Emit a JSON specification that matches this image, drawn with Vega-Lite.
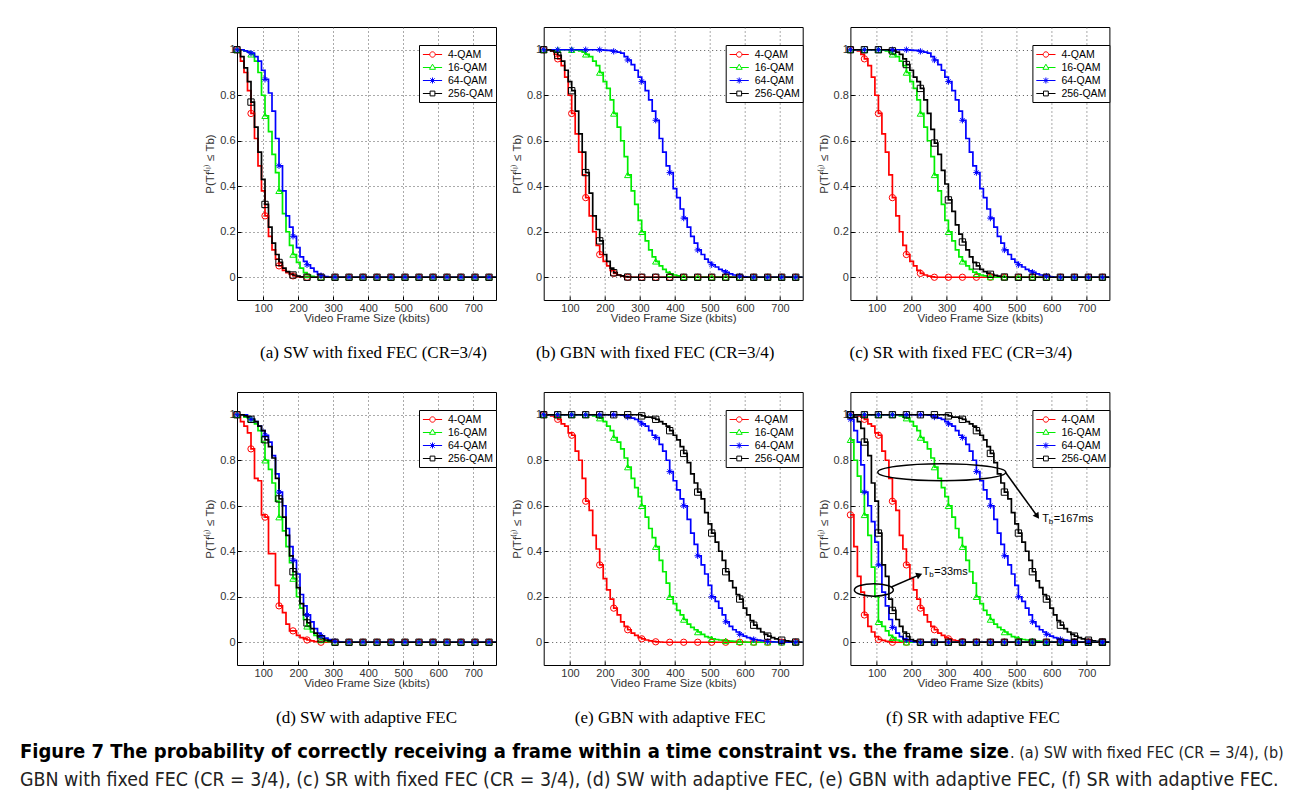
{
"$schema": "https://vega.github.io/schema/vega-lite/v6.json",
"padding": {"left": 20, "top": 26, "right": 0, "bottom": 0},
"background": "white",
"datasets": {"curves": [
{"p":"a","x":25,"4-QAM":1,"16-QAM":1,"64-QAM":1,"256-QAM":1},
{"p":"a","x":35,"4-QAM":0.95,"16-QAM":1,"64-QAM":1,"256-QAM":0.97},
{"p":"a","x":45,"4-QAM":0.9,"16-QAM":0.995,"64-QAM":0.995,"256-QAM":0.92},
{"p":"a","x":55,"4-QAM":0.82,"16-QAM":0.99,"64-QAM":0.99,"256-QAM":0.86},
{"p":"a","x":65,"4-QAM":0.72,"16-QAM":0.98,"64-QAM":0.985,"256-QAM":0.77},
{"p":"a","x":75,"4-QAM":0.61,"16-QAM":0.95,"64-QAM":0.97,"256-QAM":0.66},
{"p":"a","x":85,"4-QAM":0.49,"16-QAM":0.9,"64-QAM":0.95,"256-QAM":0.55},
{"p":"a","x":95,"4-QAM":0.38,"16-QAM":0.8,"64-QAM":0.91,"256-QAM":0.43},
{"p":"a","x":105,"4-QAM":0.27,"16-QAM":0.71,"64-QAM":0.87,"256-QAM":0.32},
{"p":"a","x":115,"4-QAM":0.18,"16-QAM":0.64,"64-QAM":0.81,"256-QAM":0.22},
{"p":"a","x":125,"4-QAM":0.12,"16-QAM":0.54,"64-QAM":0.73,"256-QAM":0.15},
{"p":"a","x":135,"4-QAM":0.08,"16-QAM":0.46,"64-QAM":0.61,"256-QAM":0.1},
{"p":"a","x":145,"4-QAM":0.05,"16-QAM":0.38,"64-QAM":0.49,"256-QAM":0.065},
{"p":"a","x":155,"4-QAM":0.03,"16-QAM":0.28,"64-QAM":0.38,"256-QAM":0.04},
{"p":"a","x":165,"4-QAM":0.02,"16-QAM":0.2,"64-QAM":0.27,"256-QAM":0.025},
{"p":"a","x":175,"4-QAM":0.012,"16-QAM":0.14,"64-QAM":0.22,"256-QAM":0.015},
{"p":"a","x":185,"4-QAM":0.006,"16-QAM":0.1,"64-QAM":0.18,"256-QAM":0.01},
{"p":"a","x":195,"4-QAM":0.003,"16-QAM":0.065,"64-QAM":0.13,"256-QAM":0.005},
{"p":"a","x":205,"4-QAM":0,"16-QAM":0.04,"64-QAM":0.09,"256-QAM":0.002},
{"p":"a","x":215,"4-QAM":0,"16-QAM":0.02,"64-QAM":0.07,"256-QAM":0},
{"p":"a","x":225,"4-QAM":0,"16-QAM":0.01,"64-QAM":0.055,"256-QAM":0},
{"p":"a","x":235,"4-QAM":0,"16-QAM":0.004,"64-QAM":0.04,"256-QAM":0},
{"p":"a","x":245,"4-QAM":0,"16-QAM":0.001,"64-QAM":0.025,"256-QAM":0},
{"p":"a","x":255,"4-QAM":0,"16-QAM":0,"64-QAM":0.013,"256-QAM":0},
{"p":"a","x":265,"4-QAM":0,"16-QAM":0,"64-QAM":0.007,"256-QAM":0},
{"p":"a","x":275,"4-QAM":0,"16-QAM":0,"64-QAM":0.003,"256-QAM":0},
{"p":"a","x":285,"4-QAM":0,"16-QAM":0,"64-QAM":0,"256-QAM":0},
{"p":"a","x":305,"4-QAM":0,"16-QAM":0,"64-QAM":0,"256-QAM":0},
{"p":"a","x":345,"4-QAM":0,"16-QAM":0,"64-QAM":0,"256-QAM":0},
{"p":"a","x":385,"4-QAM":0,"16-QAM":0,"64-QAM":0,"256-QAM":0},
{"p":"a","x":425,"4-QAM":0,"16-QAM":0,"64-QAM":0,"256-QAM":0},
{"p":"a","x":465,"4-QAM":0,"16-QAM":0,"64-QAM":0,"256-QAM":0},
{"p":"a","x":505,"4-QAM":0,"16-QAM":0,"64-QAM":0,"256-QAM":0},
{"p":"a","x":545,"4-QAM":0,"16-QAM":0,"64-QAM":0,"256-QAM":0},
{"p":"a","x":585,"4-QAM":0,"16-QAM":0,"64-QAM":0,"256-QAM":0},
{"p":"a","x":625,"4-QAM":0,"16-QAM":0,"64-QAM":0,"256-QAM":0},
{"p":"a","x":665,"4-QAM":0,"16-QAM":0,"64-QAM":0,"256-QAM":0},
{"p":"a","x":705,"4-QAM":0,"16-QAM":0,"64-QAM":0,"256-QAM":0},
{"p":"a","x":745,"4-QAM":0,"16-QAM":0,"64-QAM":0,"256-QAM":0},
{"p":"a","x":765,"4-QAM":0,"16-QAM":0,"64-QAM":0,"256-QAM":0},

{"p":"b","x":25,"4-QAM":1,"16-QAM":1,"64-QAM":1,"256-QAM":1},
{"p":"b","x":35,"4-QAM":1,"16-QAM":1,"64-QAM":1,"256-QAM":1},
{"p":"b","x":45,"4-QAM":0.995,"16-QAM":1,"64-QAM":1,"256-QAM":0.995},
{"p":"b","x":55,"4-QAM":0.98,"16-QAM":1,"64-QAM":1,"256-QAM":0.99},
{"p":"b","x":65,"4-QAM":0.96,"16-QAM":1,"64-QAM":1,"256-QAM":0.975},
{"p":"b","x":75,"4-QAM":0.93,"16-QAM":1,"64-QAM":1,"256-QAM":0.95},
{"p":"b","x":85,"4-QAM":0.88,"16-QAM":1,"64-QAM":1,"256-QAM":0.91},
{"p":"b","x":95,"4-QAM":0.8,"16-QAM":1,"64-QAM":1,"256-QAM":0.86},
{"p":"b","x":105,"4-QAM":0.72,"16-QAM":1,"64-QAM":1,"256-QAM":0.82},
{"p":"b","x":115,"4-QAM":0.63,"16-QAM":0.998,"64-QAM":1,"256-QAM":0.73},
{"p":"b","x":125,"4-QAM":0.55,"16-QAM":0.995,"64-QAM":1,"256-QAM":0.63},
{"p":"b","x":135,"4-QAM":0.45,"16-QAM":0.99,"64-QAM":1,"256-QAM":0.55},
{"p":"b","x":145,"4-QAM":0.35,"16-QAM":0.98,"64-QAM":1,"256-QAM":0.46},
{"p":"b","x":155,"4-QAM":0.27,"16-QAM":0.97,"64-QAM":1,"256-QAM":0.37},
{"p":"b","x":165,"4-QAM":0.2,"16-QAM":0.95,"64-QAM":1,"256-QAM":0.27},
{"p":"b","x":175,"4-QAM":0.14,"16-QAM":0.93,"64-QAM":1,"256-QAM":0.21},
{"p":"b","x":185,"4-QAM":0.1,"16-QAM":0.9,"64-QAM":1,"256-QAM":0.16},
{"p":"b","x":195,"4-QAM":0.07,"16-QAM":0.86,"64-QAM":0.998,"256-QAM":0.1},
{"p":"b","x":205,"4-QAM":0.05,"16-QAM":0.83,"64-QAM":0.997,"256-QAM":0.07},
{"p":"b","x":215,"4-QAM":0.03,"16-QAM":0.78,"64-QAM":0.996,"256-QAM":0.04},
{"p":"b","x":225,"4-QAM":0.017,"16-QAM":0.72,"64-QAM":0.993,"256-QAM":0.02},
{"p":"b","x":235,"4-QAM":0.01,"16-QAM":0.66,"64-QAM":0.99,"256-QAM":0.01},
{"p":"b","x":245,"4-QAM":0.005,"16-QAM":0.6,"64-QAM":0.985,"256-QAM":0.006},
{"p":"b","x":255,"4-QAM":0.002,"16-QAM":0.53,"64-QAM":0.97,"256-QAM":0.003},
{"p":"b","x":265,"4-QAM":0,"16-QAM":0.45,"64-QAM":0.955,"256-QAM":0.001},
{"p":"b","x":275,"4-QAM":0,"16-QAM":0.38,"64-QAM":0.935,"256-QAM":0},
{"p":"b","x":285,"4-QAM":0,"16-QAM":0.32,"64-QAM":0.91,"256-QAM":0},
{"p":"b","x":295,"4-QAM":0,"16-QAM":0.25,"64-QAM":0.88,"256-QAM":0},
{"p":"b","x":305,"4-QAM":0,"16-QAM":0.2,"64-QAM":0.86,"256-QAM":0},
{"p":"b","x":315,"4-QAM":0,"16-QAM":0.16,"64-QAM":0.82,"256-QAM":0},
{"p":"b","x":325,"4-QAM":0,"16-QAM":0.12,"64-QAM":0.78,"256-QAM":0},
{"p":"b","x":335,"4-QAM":0,"16-QAM":0.09,"64-QAM":0.73,"256-QAM":0},
{"p":"b","x":345,"4-QAM":0,"16-QAM":0.07,"64-QAM":0.69,"256-QAM":0},
{"p":"b","x":355,"4-QAM":0,"16-QAM":0.05,"64-QAM":0.61,"256-QAM":0},
{"p":"b","x":365,"4-QAM":0,"16-QAM":0.035,"64-QAM":0.55,"256-QAM":0},
{"p":"b","x":375,"4-QAM":0,"16-QAM":0.022,"64-QAM":0.49,"256-QAM":0},
{"p":"b","x":385,"4-QAM":0,"16-QAM":0.015,"64-QAM":0.46,"256-QAM":0},
{"p":"b","x":395,"4-QAM":0,"16-QAM":0.01,"64-QAM":0.39,"256-QAM":0},
{"p":"b","x":405,"4-QAM":0,"16-QAM":0.006,"64-QAM":0.35,"256-QAM":0},
{"p":"b","x":415,"4-QAM":0,"16-QAM":0.003,"64-QAM":0.3,"256-QAM":0},
{"p":"b","x":425,"4-QAM":0,"16-QAM":0.001,"64-QAM":0.26,"256-QAM":0},
{"p":"b","x":435,"4-QAM":0,"16-QAM":0,"64-QAM":0.22,"256-QAM":0},
{"p":"b","x":445,"4-QAM":0,"16-QAM":0,"64-QAM":0.18,"256-QAM":0},
{"p":"b","x":455,"4-QAM":0,"16-QAM":0,"64-QAM":0.15,"256-QAM":0},
{"p":"b","x":465,"4-QAM":0,"16-QAM":0,"64-QAM":0.12,"256-QAM":0},
{"p":"b","x":475,"4-QAM":0,"16-QAM":0,"64-QAM":0.1,"256-QAM":0},
{"p":"b","x":485,"4-QAM":0,"16-QAM":0,"64-QAM":0.08,"256-QAM":0},
{"p":"b","x":495,"4-QAM":0,"16-QAM":0,"64-QAM":0.065,"256-QAM":0},
{"p":"b","x":505,"4-QAM":0,"16-QAM":0,"64-QAM":0.055,"256-QAM":0},
{"p":"b","x":515,"4-QAM":0,"16-QAM":0,"64-QAM":0.045,"256-QAM":0},
{"p":"b","x":525,"4-QAM":0,"16-QAM":0,"64-QAM":0.035,"256-QAM":0},
{"p":"b","x":535,"4-QAM":0,"16-QAM":0,"64-QAM":0.028,"256-QAM":0},
{"p":"b","x":545,"4-QAM":0,"16-QAM":0,"64-QAM":0.022,"256-QAM":0},
{"p":"b","x":555,"4-QAM":0,"16-QAM":0,"64-QAM":0.015,"256-QAM":0},
{"p":"b","x":565,"4-QAM":0,"16-QAM":0,"64-QAM":0.01,"256-QAM":0},
{"p":"b","x":575,"4-QAM":0,"16-QAM":0,"64-QAM":0.007,"256-QAM":0},
{"p":"b","x":585,"4-QAM":0,"16-QAM":0,"64-QAM":0.005,"256-QAM":0},
{"p":"b","x":595,"4-QAM":0,"16-QAM":0,"64-QAM":0.002,"256-QAM":0},
{"p":"b","x":605,"4-QAM":0,"16-QAM":0,"64-QAM":0,"256-QAM":0},
{"p":"b","x":625,"4-QAM":0,"16-QAM":0,"64-QAM":0,"256-QAM":0},
{"p":"b","x":665,"4-QAM":0,"16-QAM":0,"64-QAM":0,"256-QAM":0},
{"p":"b","x":705,"4-QAM":0,"16-QAM":0,"64-QAM":0,"256-QAM":0},
{"p":"b","x":745,"4-QAM":0,"16-QAM":0,"64-QAM":0,"256-QAM":0},
{"p":"b","x":765,"4-QAM":0,"16-QAM":0,"64-QAM":0,"256-QAM":0},

{"p":"c","x":25,"4-QAM":1,"16-QAM":1,"64-QAM":1,"256-QAM":1},
{"p":"c","x":35,"4-QAM":1,"16-QAM":1,"64-QAM":1,"256-QAM":1},
{"p":"c","x":45,"4-QAM":0.995,"16-QAM":1,"64-QAM":1,"256-QAM":1},
{"p":"c","x":55,"4-QAM":0.98,"16-QAM":1,"64-QAM":1,"256-QAM":1},
{"p":"c","x":65,"4-QAM":0.96,"16-QAM":1,"64-QAM":1,"256-QAM":1},
{"p":"c","x":75,"4-QAM":0.93,"16-QAM":1,"64-QAM":1,"256-QAM":1},
{"p":"c","x":85,"4-QAM":0.88,"16-QAM":1,"64-QAM":1,"256-QAM":1},
{"p":"c","x":95,"4-QAM":0.8,"16-QAM":1,"64-QAM":1,"256-QAM":1},
{"p":"c","x":105,"4-QAM":0.72,"16-QAM":1,"64-QAM":1,"256-QAM":1},
{"p":"c","x":115,"4-QAM":0.63,"16-QAM":0.998,"64-QAM":1,"256-QAM":1},
{"p":"c","x":125,"4-QAM":0.55,"16-QAM":0.995,"64-QAM":1,"256-QAM":1},
{"p":"c","x":135,"4-QAM":0.45,"16-QAM":0.99,"64-QAM":1,"256-QAM":0.998},
{"p":"c","x":145,"4-QAM":0.35,"16-QAM":0.98,"64-QAM":1,"256-QAM":0.995},
{"p":"c","x":155,"4-QAM":0.27,"16-QAM":0.97,"64-QAM":1,"256-QAM":0.99},
{"p":"c","x":165,"4-QAM":0.2,"16-QAM":0.95,"64-QAM":1,"256-QAM":0.98},
{"p":"c","x":175,"4-QAM":0.14,"16-QAM":0.93,"64-QAM":1,"256-QAM":0.96},
{"p":"c","x":185,"4-QAM":0.1,"16-QAM":0.9,"64-QAM":1,"256-QAM":0.935},
{"p":"c","x":195,"4-QAM":0.07,"16-QAM":0.86,"64-QAM":0.998,"256-QAM":0.91},
{"p":"c","x":205,"4-QAM":0.05,"16-QAM":0.83,"64-QAM":0.997,"256-QAM":0.88},
{"p":"c","x":215,"4-QAM":0.03,"16-QAM":0.78,"64-QAM":0.996,"256-QAM":0.86},
{"p":"c","x":225,"4-QAM":0.017,"16-QAM":0.72,"64-QAM":0.993,"256-QAM":0.83},
{"p":"c","x":235,"4-QAM":0.01,"16-QAM":0.66,"64-QAM":0.99,"256-QAM":0.78},
{"p":"c","x":245,"4-QAM":0.005,"16-QAM":0.6,"64-QAM":0.985,"256-QAM":0.72},
{"p":"c","x":255,"4-QAM":0.002,"16-QAM":0.53,"64-QAM":0.97,"256-QAM":0.65},
{"p":"c","x":265,"4-QAM":0,"16-QAM":0.45,"64-QAM":0.955,"256-QAM":0.59},
{"p":"c","x":275,"4-QAM":0,"16-QAM":0.38,"64-QAM":0.935,"256-QAM":0.54},
{"p":"c","x":285,"4-QAM":0,"16-QAM":0.32,"64-QAM":0.91,"256-QAM":0.47},
{"p":"c","x":295,"4-QAM":0,"16-QAM":0.25,"64-QAM":0.88,"256-QAM":0.41},
{"p":"c","x":305,"4-QAM":0,"16-QAM":0.2,"64-QAM":0.86,"256-QAM":0.34},
{"p":"c","x":315,"4-QAM":0,"16-QAM":0.16,"64-QAM":0.82,"256-QAM":0.29},
{"p":"c","x":325,"4-QAM":0,"16-QAM":0.12,"64-QAM":0.78,"256-QAM":0.23},
{"p":"c","x":335,"4-QAM":0,"16-QAM":0.09,"64-QAM":0.73,"256-QAM":0.19},
{"p":"c","x":345,"4-QAM":0,"16-QAM":0.07,"64-QAM":0.69,"256-QAM":0.155},
{"p":"c","x":355,"4-QAM":0,"16-QAM":0.05,"64-QAM":0.61,"256-QAM":0.12},
{"p":"c","x":365,"4-QAM":0,"16-QAM":0.035,"64-QAM":0.55,"256-QAM":0.09},
{"p":"c","x":375,"4-QAM":0,"16-QAM":0.022,"64-QAM":0.49,"256-QAM":0.065},
{"p":"c","x":385,"4-QAM":0,"16-QAM":0.015,"64-QAM":0.46,"256-QAM":0.05},
{"p":"c","x":395,"4-QAM":0,"16-QAM":0.01,"64-QAM":0.39,"256-QAM":0.035},
{"p":"c","x":405,"4-QAM":0,"16-QAM":0.006,"64-QAM":0.35,"256-QAM":0.025},
{"p":"c","x":415,"4-QAM":0,"16-QAM":0.003,"64-QAM":0.3,"256-QAM":0.018},
{"p":"c","x":425,"4-QAM":0,"16-QAM":0.001,"64-QAM":0.26,"256-QAM":0.013},
{"p":"c","x":435,"4-QAM":0,"16-QAM":0,"64-QAM":0.22,"256-QAM":0.008},
{"p":"c","x":445,"4-QAM":0,"16-QAM":0,"64-QAM":0.18,"256-QAM":0.005},
{"p":"c","x":455,"4-QAM":0,"16-QAM":0,"64-QAM":0.15,"256-QAM":0.003},
{"p":"c","x":465,"4-QAM":0,"16-QAM":0,"64-QAM":0.12,"256-QAM":0.001},
{"p":"c","x":475,"4-QAM":0,"16-QAM":0,"64-QAM":0.1,"256-QAM":0},
{"p":"c","x":485,"4-QAM":0,"16-QAM":0,"64-QAM":0.08,"256-QAM":0},
{"p":"c","x":495,"4-QAM":0,"16-QAM":0,"64-QAM":0.065,"256-QAM":0},
{"p":"c","x":505,"4-QAM":0,"16-QAM":0,"64-QAM":0.055,"256-QAM":0},
{"p":"c","x":515,"4-QAM":0,"16-QAM":0,"64-QAM":0.045,"256-QAM":0},
{"p":"c","x":525,"4-QAM":0,"16-QAM":0,"64-QAM":0.035,"256-QAM":0},
{"p":"c","x":535,"4-QAM":0,"16-QAM":0,"64-QAM":0.028,"256-QAM":0},
{"p":"c","x":545,"4-QAM":0,"16-QAM":0,"64-QAM":0.022,"256-QAM":0},
{"p":"c","x":555,"4-QAM":0,"16-QAM":0,"64-QAM":0.015,"256-QAM":0},
{"p":"c","x":565,"4-QAM":0,"16-QAM":0,"64-QAM":0.01,"256-QAM":0},
{"p":"c","x":575,"4-QAM":0,"16-QAM":0,"64-QAM":0.007,"256-QAM":0},
{"p":"c","x":585,"4-QAM":0,"16-QAM":0,"64-QAM":0.005,"256-QAM":0},
{"p":"c","x":595,"4-QAM":0,"16-QAM":0,"64-QAM":0.002,"256-QAM":0},
{"p":"c","x":605,"4-QAM":0,"16-QAM":0,"64-QAM":0,"256-QAM":0},
{"p":"c","x":625,"4-QAM":0,"16-QAM":0,"64-QAM":0,"256-QAM":0},
{"p":"c","x":665,"4-QAM":0,"16-QAM":0,"64-QAM":0,"256-QAM":0},
{"p":"c","x":705,"4-QAM":0,"16-QAM":0,"64-QAM":0,"256-QAM":0},
{"p":"c","x":745,"4-QAM":0,"16-QAM":0,"64-QAM":0,"256-QAM":0},
{"p":"c","x":765,"4-QAM":0,"16-QAM":0,"64-QAM":0,"256-QAM":0},

{"p":"d","x":25,"4-QAM":1,"16-QAM":1,"64-QAM":1,"256-QAM":1},
{"p":"d","x":35,"4-QAM":0.97,"16-QAM":1,"64-QAM":1,"256-QAM":1},
{"p":"d","x":45,"4-QAM":0.95,"16-QAM":0.99,"64-QAM":1,"256-QAM":0.995},
{"p":"d","x":55,"4-QAM":0.92,"16-QAM":0.985,"64-QAM":0.99,"256-QAM":0.99},
{"p":"d","x":65,"4-QAM":0.85,"16-QAM":0.98,"64-QAM":0.98,"256-QAM":0.98},
{"p":"d","x":75,"4-QAM":0.72,"16-QAM":0.96,"64-QAM":0.97,"256-QAM":0.97},
{"p":"d","x":85,"4-QAM":0.71,"16-QAM":0.93,"64-QAM":0.95,"256-QAM":0.95},
{"p":"d","x":95,"4-QAM":0.56,"16-QAM":0.88,"64-QAM":0.93,"256-QAM":0.93},
{"p":"d","x":105,"4-QAM":0.55,"16-QAM":0.8,"64-QAM":0.91,"256-QAM":0.89},
{"p":"d","x":115,"4-QAM":0.39,"16-QAM":0.76,"64-QAM":0.88,"256-QAM":0.86},
{"p":"d","x":125,"4-QAM":0.39,"16-QAM":0.7,"64-QAM":0.82,"256-QAM":0.81},
{"p":"d","x":135,"4-QAM":0.25,"16-QAM":0.62,"64-QAM":0.74,"256-QAM":0.72},
{"p":"d","x":145,"4-QAM":0.16,"16-QAM":0.55,"64-QAM":0.66,"256-QAM":0.63},
{"p":"d","x":155,"4-QAM":0.13,"16-QAM":0.49,"64-QAM":0.6,"256-QAM":0.55},
{"p":"d","x":165,"4-QAM":0.08,"16-QAM":0.42,"64-QAM":0.5,"256-QAM":0.47},
{"p":"d","x":175,"4-QAM":0.05,"16-QAM":0.35,"64-QAM":0.42,"256-QAM":0.38},
{"p":"d","x":185,"4-QAM":0.05,"16-QAM":0.28,"64-QAM":0.36,"256-QAM":0.31},
{"p":"d","x":195,"4-QAM":0.03,"16-QAM":0.2,"64-QAM":0.3,"256-QAM":0.24},
{"p":"d","x":205,"4-QAM":0.02,"16-QAM":0.15,"64-QAM":0.21,"256-QAM":0.17},
{"p":"d","x":215,"4-QAM":0.015,"16-QAM":0.1,"64-QAM":0.16,"256-QAM":0.12},
{"p":"d","x":225,"4-QAM":0.01,"16-QAM":0.07,"64-QAM":0.12,"256-QAM":0.085},
{"p":"d","x":235,"4-QAM":0.006,"16-QAM":0.045,"64-QAM":0.09,"256-QAM":0.06},
{"p":"d","x":245,"4-QAM":0.003,"16-QAM":0.03,"64-QAM":0.06,"256-QAM":0.04},
{"p":"d","x":255,"4-QAM":0.001,"16-QAM":0.018,"64-QAM":0.04,"256-QAM":0.025},
{"p":"d","x":265,"4-QAM":0,"16-QAM":0.01,"64-QAM":0.028,"256-QAM":0.015},
{"p":"d","x":275,"4-QAM":0,"16-QAM":0.006,"64-QAM":0.018,"256-QAM":0.01},
{"p":"d","x":285,"4-QAM":0,"16-QAM":0.003,"64-QAM":0.012,"256-QAM":0.006},
{"p":"d","x":295,"4-QAM":0,"16-QAM":0.001,"64-QAM":0.007,"256-QAM":0.003},
{"p":"d","x":305,"4-QAM":0,"16-QAM":0,"64-QAM":0.004,"256-QAM":0},
{"p":"d","x":315,"4-QAM":0,"16-QAM":0,"64-QAM":0.001,"256-QAM":0},
{"p":"d","x":325,"4-QAM":0,"16-QAM":0,"64-QAM":0,"256-QAM":0},
{"p":"d","x":345,"4-QAM":0,"16-QAM":0,"64-QAM":0,"256-QAM":0},
{"p":"d","x":385,"4-QAM":0,"16-QAM":0,"64-QAM":0,"256-QAM":0},
{"p":"d","x":425,"4-QAM":0,"16-QAM":0,"64-QAM":0,"256-QAM":0},
{"p":"d","x":465,"4-QAM":0,"16-QAM":0,"64-QAM":0,"256-QAM":0},
{"p":"d","x":505,"4-QAM":0,"16-QAM":0,"64-QAM":0,"256-QAM":0},
{"p":"d","x":545,"4-QAM":0,"16-QAM":0,"64-QAM":0,"256-QAM":0},
{"p":"d","x":585,"4-QAM":0,"16-QAM":0,"64-QAM":0,"256-QAM":0},
{"p":"d","x":625,"4-QAM":0,"16-QAM":0,"64-QAM":0,"256-QAM":0},
{"p":"d","x":665,"4-QAM":0,"16-QAM":0,"64-QAM":0,"256-QAM":0},
{"p":"d","x":705,"4-QAM":0,"16-QAM":0,"64-QAM":0,"256-QAM":0},
{"p":"d","x":745,"4-QAM":0,"16-QAM":0,"64-QAM":0,"256-QAM":0},
{"p":"d","x":765,"4-QAM":0,"16-QAM":0,"64-QAM":0,"256-QAM":0},

{"p":"e","x":25,"4-QAM":1,"16-QAM":1,"64-QAM":1,"256-QAM":1},
{"p":"e","x":35,"4-QAM":1,"16-QAM":1,"64-QAM":1,"256-QAM":1},
{"p":"e","x":45,"4-QAM":0.995,"16-QAM":1,"64-QAM":1,"256-QAM":1},
{"p":"e","x":55,"4-QAM":0.99,"16-QAM":1,"64-QAM":1,"256-QAM":1},
{"p":"e","x":65,"4-QAM":0.98,"16-QAM":1,"64-QAM":1,"256-QAM":1},
{"p":"e","x":75,"4-QAM":0.96,"16-QAM":1,"64-QAM":1,"256-QAM":1},
{"p":"e","x":85,"4-QAM":0.95,"16-QAM":1,"64-QAM":1,"256-QAM":1},
{"p":"e","x":95,"4-QAM":0.92,"16-QAM":1,"64-QAM":1,"256-QAM":1},
{"p":"e","x":105,"4-QAM":0.91,"16-QAM":1,"64-QAM":1,"256-QAM":1},
{"p":"e","x":115,"4-QAM":0.84,"16-QAM":1,"64-QAM":1,"256-QAM":1},
{"p":"e","x":125,"4-QAM":0.8,"16-QAM":1,"64-QAM":1,"256-QAM":1},
{"p":"e","x":135,"4-QAM":0.72,"16-QAM":1,"64-QAM":1,"256-QAM":1},
{"p":"e","x":145,"4-QAM":0.62,"16-QAM":1,"64-QAM":1,"256-QAM":1},
{"p":"e","x":155,"4-QAM":0.58,"16-QAM":1,"64-QAM":1,"256-QAM":1},
{"p":"e","x":165,"4-QAM":0.47,"16-QAM":0.995,"64-QAM":1,"256-QAM":1},
{"p":"e","x":175,"4-QAM":0.41,"16-QAM":0.99,"64-QAM":1,"256-QAM":1},
{"p":"e","x":185,"4-QAM":0.34,"16-QAM":0.985,"64-QAM":1,"256-QAM":1},
{"p":"e","x":195,"4-QAM":0.28,"16-QAM":0.97,"64-QAM":1,"256-QAM":1},
{"p":"e","x":205,"4-QAM":0.23,"16-QAM":0.95,"64-QAM":1,"256-QAM":1},
{"p":"e","x":215,"4-QAM":0.19,"16-QAM":0.93,"64-QAM":1,"256-QAM":1},
{"p":"e","x":225,"4-QAM":0.15,"16-QAM":0.9,"64-QAM":1,"256-QAM":1},
{"p":"e","x":235,"4-QAM":0.12,"16-QAM":0.88,"64-QAM":1,"256-QAM":1},
{"p":"e","x":245,"4-QAM":0.09,"16-QAM":0.85,"64-QAM":0.998,"256-QAM":1},
{"p":"e","x":255,"4-QAM":0.07,"16-QAM":0.81,"64-QAM":0.995,"256-QAM":1},
{"p":"e","x":265,"4-QAM":0.055,"16-QAM":0.77,"64-QAM":0.99,"256-QAM":1},
{"p":"e","x":275,"4-QAM":0.04,"16-QAM":0.72,"64-QAM":0.985,"256-QAM":1},
{"p":"e","x":285,"4-QAM":0.03,"16-QAM":0.68,"64-QAM":0.98,"256-QAM":1},
{"p":"e","x":295,"4-QAM":0.02,"16-QAM":0.64,"64-QAM":0.97,"256-QAM":1},
{"p":"e","x":305,"4-QAM":0.015,"16-QAM":0.6,"64-QAM":0.96,"256-QAM":0.995},
{"p":"e","x":315,"4-QAM":0.01,"16-QAM":0.55,"64-QAM":0.95,"256-QAM":0.99},
{"p":"e","x":325,"4-QAM":0.006,"16-QAM":0.5,"64-QAM":0.93,"256-QAM":0.99},
{"p":"e","x":335,"4-QAM":0.004,"16-QAM":0.46,"64-QAM":0.91,"256-QAM":0.985},
{"p":"e","x":345,"4-QAM":0.002,"16-QAM":0.42,"64-QAM":0.9,"256-QAM":0.98},
{"p":"e","x":355,"4-QAM":0.001,"16-QAM":0.36,"64-QAM":0.87,"256-QAM":0.97},
{"p":"e","x":365,"4-QAM":0,"16-QAM":0.31,"64-QAM":0.84,"256-QAM":0.96},
{"p":"e","x":375,"4-QAM":0,"16-QAM":0.26,"64-QAM":0.8,"256-QAM":0.95},
{"p":"e","x":385,"4-QAM":0,"16-QAM":0.2,"64-QAM":0.75,"256-QAM":0.93},
{"p":"e","x":395,"4-QAM":0,"16-QAM":0.17,"64-QAM":0.71,"256-QAM":0.91},
{"p":"e","x":405,"4-QAM":0,"16-QAM":0.14,"64-QAM":0.67,"256-QAM":0.89},
{"p":"e","x":415,"4-QAM":0,"16-QAM":0.12,"64-QAM":0.63,"256-QAM":0.86},
{"p":"e","x":425,"4-QAM":0,"16-QAM":0.1,"64-QAM":0.6,"256-QAM":0.83},
{"p":"e","x":435,"4-QAM":0,"16-QAM":0.08,"64-QAM":0.54,"256-QAM":0.79},
{"p":"e","x":445,"4-QAM":0,"16-QAM":0.065,"64-QAM":0.48,"256-QAM":0.74},
{"p":"e","x":455,"4-QAM":0,"16-QAM":0.055,"64-QAM":0.43,"256-QAM":0.7},
{"p":"e","x":465,"4-QAM":0,"16-QAM":0.045,"64-QAM":0.38,"256-QAM":0.66},
{"p":"e","x":475,"4-QAM":0,"16-QAM":0.035,"64-QAM":0.34,"256-QAM":0.63},
{"p":"e","x":485,"4-QAM":0,"16-QAM":0.025,"64-QAM":0.3,"256-QAM":0.57},
{"p":"e","x":495,"4-QAM":0,"16-QAM":0.02,"64-QAM":0.25,"256-QAM":0.52},
{"p":"e","x":505,"4-QAM":0,"16-QAM":0.015,"64-QAM":0.2,"256-QAM":0.48},
{"p":"e","x":515,"4-QAM":0,"16-QAM":0.012,"64-QAM":0.18,"256-QAM":0.44},
{"p":"e","x":525,"4-QAM":0,"16-QAM":0.01,"64-QAM":0.15,"256-QAM":0.4},
{"p":"e","x":535,"4-QAM":0,"16-QAM":0.008,"64-QAM":0.12,"256-QAM":0.36},
{"p":"e","x":545,"4-QAM":0,"16-QAM":0.006,"64-QAM":0.09,"256-QAM":0.31},
{"p":"e","x":555,"4-QAM":0,"16-QAM":0.005,"64-QAM":0.07,"256-QAM":0.27},
{"p":"e","x":565,"4-QAM":0,"16-QAM":0.004,"64-QAM":0.055,"256-QAM":0.24},
{"p":"e","x":575,"4-QAM":0,"16-QAM":0.003,"64-QAM":0.045,"256-QAM":0.21},
{"p":"e","x":585,"4-QAM":0,"16-QAM":0.002,"64-QAM":0.035,"256-QAM":0.19},
{"p":"e","x":595,"4-QAM":0,"16-QAM":0.001,"64-QAM":0.027,"256-QAM":0.15},
{"p":"e","x":605,"4-QAM":0,"16-QAM":0,"64-QAM":0.02,"256-QAM":0.12},
{"p":"e","x":615,"4-QAM":0,"16-QAM":0,"64-QAM":0.016,"256-QAM":0.095},
{"p":"e","x":625,"4-QAM":0,"16-QAM":0,"64-QAM":0.012,"256-QAM":0.075},
{"p":"e","x":635,"4-QAM":0,"16-QAM":0,"64-QAM":0.009,"256-QAM":0.06},
{"p":"e","x":645,"4-QAM":0,"16-QAM":0,"64-QAM":0.007,"256-QAM":0.045},
{"p":"e","x":655,"4-QAM":0,"16-QAM":0,"64-QAM":0.005,"256-QAM":0.035},
{"p":"e","x":665,"4-QAM":0,"16-QAM":0,"64-QAM":0.003,"256-QAM":0.027},
{"p":"e","x":675,"4-QAM":0,"16-QAM":0,"64-QAM":0.002,"256-QAM":0.02},
{"p":"e","x":685,"4-QAM":0,"16-QAM":0,"64-QAM":0.001,"256-QAM":0.015},
{"p":"e","x":695,"4-QAM":0,"16-QAM":0,"64-QAM":0,"256-QAM":0.012},
{"p":"e","x":705,"4-QAM":0,"16-QAM":0,"64-QAM":0,"256-QAM":0.009},
{"p":"e","x":715,"4-QAM":0,"16-QAM":0,"64-QAM":0,"256-QAM":0.006},
{"p":"e","x":725,"4-QAM":0,"16-QAM":0,"64-QAM":0,"256-QAM":0.004},
{"p":"e","x":735,"4-QAM":0,"16-QAM":0,"64-QAM":0,"256-QAM":0.002},
{"p":"e","x":745,"4-QAM":0,"16-QAM":0,"64-QAM":0,"256-QAM":0.001},
{"p":"e","x":755,"4-QAM":0,"16-QAM":0,"64-QAM":0,"256-QAM":0},
{"p":"e","x":765,"4-QAM":0,"16-QAM":0,"64-QAM":0,"256-QAM":0},

{"p":"f","x":25,"4-QAM":0.56,"16-QAM":0.89,"64-QAM":0.98,"256-QAM":1},
{"p":"f","x":35,"4-QAM":0.42,"16-QAM":0.8,"64-QAM":0.93,"256-QAM":0.99},
{"p":"f","x":45,"4-QAM":0.29,"16-QAM":0.73,"64-QAM":0.88,"256-QAM":0.97},
{"p":"f","x":55,"4-QAM":0.22,"16-QAM":0.66,"64-QAM":0.78,"256-QAM":0.94},
{"p":"f","x":65,"4-QAM":0.12,"16-QAM":0.56,"64-QAM":0.66,"256-QAM":0.88},
{"p":"f","x":75,"4-QAM":0.07,"16-QAM":0.47,"64-QAM":0.6,"256-QAM":0.82},
{"p":"f","x":85,"4-QAM":0.045,"16-QAM":0.33,"64-QAM":0.53,"256-QAM":0.7},
{"p":"f","x":95,"4-QAM":0.025,"16-QAM":0.2,"64-QAM":0.44,"256-QAM":0.62},
{"p":"f","x":105,"4-QAM":0.012,"16-QAM":0.09,"64-QAM":0.34,"256-QAM":0.48},
{"p":"f","x":115,"4-QAM":0.008,"16-QAM":0.07,"64-QAM":0.22,"256-QAM":0.34},
{"p":"f","x":125,"4-QAM":0.004,"16-QAM":0.05,"64-QAM":0.16,"256-QAM":0.29},
{"p":"f","x":135,"4-QAM":0.002,"16-QAM":0.03,"64-QAM":0.1,"256-QAM":0.19},
{"p":"f","x":145,"4-QAM":0,"16-QAM":0.02,"64-QAM":0.065,"256-QAM":0.14},
{"p":"f","x":155,"4-QAM":0,"16-QAM":0.01,"64-QAM":0.04,"256-QAM":0.1},
{"p":"f","x":165,"4-QAM":0,"16-QAM":0.005,"64-QAM":0.025,"256-QAM":0.07},
{"p":"f","x":175,"4-QAM":0,"16-QAM":0.002,"64-QAM":0.015,"256-QAM":0.045},
{"p":"f","x":185,"4-QAM":0,"16-QAM":0,"64-QAM":0.01,"256-QAM":0.025},
{"p":"f","x":195,"4-QAM":0,"16-QAM":0,"64-QAM":0.005,"256-QAM":0.012},
{"p":"f","x":205,"4-QAM":0,"16-QAM":0,"64-QAM":0.002,"256-QAM":0.006},
{"p":"f","x":215,"4-QAM":0,"16-QAM":0,"64-QAM":0,"256-QAM":0.002},
{"p":"f","x":225,"4-QAM":0,"16-QAM":0,"64-QAM":0,"256-QAM":0},
{"p":"f","x":265,"4-QAM":0,"16-QAM":0,"64-QAM":0,"256-QAM":0},
{"p":"f","x":305,"4-QAM":0,"16-QAM":0,"64-QAM":0,"256-QAM":0},
{"p":"f","x":345,"4-QAM":0,"16-QAM":0,"64-QAM":0,"256-QAM":0},
{"p":"f","x":385,"4-QAM":0,"16-QAM":0,"64-QAM":0,"256-QAM":0},
{"p":"f","x":425,"4-QAM":0,"16-QAM":0,"64-QAM":0,"256-QAM":0},
{"p":"f","x":465,"4-QAM":0,"16-QAM":0,"64-QAM":0,"256-QAM":0},
{"p":"f","x":505,"4-QAM":0,"16-QAM":0,"64-QAM":0,"256-QAM":0},
{"p":"f","x":545,"4-QAM":0,"16-QAM":0,"64-QAM":0,"256-QAM":0},
{"p":"f","x":585,"4-QAM":0,"16-QAM":0,"64-QAM":0,"256-QAM":0},
{"p":"f","x":625,"4-QAM":0,"16-QAM":0,"64-QAM":0,"256-QAM":0},
{"p":"f","x":665,"4-QAM":0,"16-QAM":0,"64-QAM":0,"256-QAM":0},
{"p":"f","x":705,"4-QAM":0,"16-QAM":0,"64-QAM":0,"256-QAM":0},
{"p":"f","x":745,"4-QAM":0,"16-QAM":0,"64-QAM":0,"256-QAM":0},
{"p":"f","x":765,"4-QAM":0,"16-QAM":0,"64-QAM":0,"256-QAM":0}
]},
"vconcat": [
{
"vconcat": [
{
"hconcat": [
{
"width": 259, "height": 273,
"data": {"name": "curves"},
"transform": [{"filter": "datum.p == 'a'"}, {"fold": ["4-QAM","16-QAM","64-QAM","256-QAM"], "as": ["s","y"]}],
"title": {"text": "(a) SW with fixed FEC (CR=3/4)", "orient": "bottom", "offset": 21, "dx": 7, "font": "Liberation Serif", "fontSize": 17, "fontWeight": "normal", "color": "#000"},
"encoding": {
"x": {"field": "x", "type": "quantitative", "scale": {"domain": [25,765], "nice": false, "zero": false}, "axis": {"title": "Video Frame Size (kbits)", "values": [100,200,300,400,500,600,700]}},
"y": {"field": "y", "type": "quantitative", "scale": {"domain": [-0.1,1.1], "nice": false, "zero": false}, "axis": {"title": "P(Tf⁽ˡ⁾ ≤ Tb)", "values": [0,0.2,0.4,0.6,0.8,1], "format": "~g"}}
},
"layer": [
{"mark": {"type": "line", "interpolate": "step-after", "strokeWidth": 1.7},
 "encoding": {"detail": {"field": "p"}, "color": {"field": "s", "type": "nominal", "scale": {"domain": ["4-QAM","16-QAM","64-QAM","256-QAM"], "range": ["#ff0000","#00ee00","#0000ff","#000000"]},
  "legend": {"orient": "none", "legendX": 182, "legendY": 18, "title": null, "strokeColor": "#000", "fillColor": "#fff", "padding": 3, "labelFont": "Liberation Sans", "labelFontSize": 10.5, "labelColor": "#000", "symbolSize": 144, "symbolOffset": 4, "labelOffset": 9, "rowPadding": 1,
   "encode": {"symbols": {"update": {"shape": {"signal": "datum.value == '4-QAM' ? 'M-1.6,0L-0.45,0M0.45,0L1.6,0M0.45,0A0.45,0.45,0,1,1,-0.45,0A0.45,0.45,0,1,1,0.45,0' : datum.value == '16-QAM' ? 'M-1.6,0L-0.32,0M0.32,0L1.6,0M0,-0.55L0.5,0.3L-0.5,0.3Z' : datum.value == '64-QAM' ? 'M-1.6,0L1.6,0M0,-0.5L0,0.5M-0.36,-0.36L0.36,0.36M-0.36,0.36L0.36,-0.36' : 'M-1.6,0L-0.4,0M0.4,0L1.6,0M-0.4,-0.4L0.4,-0.4L0.4,0.4L-0.4,0.4Z'"}, "fill": {"value": "transparent"}, "strokeWidth": {"value": 1}}}}}}}},
{"transform": [{"filter": "datum.x % 40 == 25"}], "layer": [
 {"transform": [{"filter": "datum.s == '4-QAM'"}], "mark": {"type": "point", "shape": "circle", "filled": false, "size": 40, "strokeWidth": 1, "opacity": 1, "color": "#ff0000"}},
 {"transform": [{"filter": "datum.s == '16-QAM'"}], "mark": {"type": "point", "shape": "triangle-up", "filled": false, "size": 40, "strokeWidth": 1, "opacity": 1, "color": "#00ee00"}},
 {"transform": [{"filter": "datum.s == '64-QAM'"}], "mark": {"type": "point", "shape": "M0,-1L0,1M-1,0L1,0M-0.7,-0.7L0.7,0.7M-0.7,0.7L0.7,-0.7", "filled": false, "size": 40, "strokeWidth": 1, "opacity": 1, "color": "#0000ff"}},
 {"transform": [{"filter": "datum.s == '256-QAM'"}], "mark": {"type": "point", "shape": "square", "filled": false, "size": 40, "strokeWidth": 1, "opacity": 1, "color": "#000000"}}
]}
]
},
{
"width": 259, "height": 273,
"data": {"name": "curves"},
"transform": [{"filter": "datum.p == 'b'"}, {"fold": ["4-QAM","16-QAM","64-QAM","256-QAM"], "as": ["s","y"]}],
"title": {"text": "(b) GBN with fixed FEC (CR=3/4)", "orient": "bottom", "offset": 21, "dx": -18, "font": "Liberation Serif", "fontSize": 17, "fontWeight": "normal", "color": "#000"},
"encoding": {
"x": {"field": "x", "type": "quantitative", "scale": {"domain": [25,765], "nice": false, "zero": false}, "axis": {"title": "Video Frame Size (kbits)", "values": [100,200,300,400,500,600,700]}},
"y": {"field": "y", "type": "quantitative", "scale": {"domain": [-0.1,1.1], "nice": false, "zero": false}, "axis": {"title": "P(Tf⁽ˡ⁾ ≤ Tb)", "values": [0,0.2,0.4,0.6,0.8,1], "format": "~g"}}
},
"layer": [
{"mark": {"type": "line", "interpolate": "step-after", "strokeWidth": 1.7},
 "encoding": {"detail": {"field": "p"}, "color": {"field": "s", "type": "nominal", "scale": {"domain": ["4-QAM","16-QAM","64-QAM","256-QAM"], "range": ["#ff0000","#00ee00","#0000ff","#000000"]},
  "legend": {"orient": "none", "legendX": 182, "legendY": 18, "title": null, "strokeColor": "#000", "fillColor": "#fff", "padding": 3, "labelFont": "Liberation Sans", "labelFontSize": 10.5, "labelColor": "#000", "symbolSize": 144, "symbolOffset": 4, "labelOffset": 9, "rowPadding": 1,
   "encode": {"symbols": {"update": {"shape": {"signal": "datum.value == '4-QAM' ? 'M-1.6,0L-0.45,0M0.45,0L1.6,0M0.45,0A0.45,0.45,0,1,1,-0.45,0A0.45,0.45,0,1,1,0.45,0' : datum.value == '16-QAM' ? 'M-1.6,0L-0.32,0M0.32,0L1.6,0M0,-0.55L0.5,0.3L-0.5,0.3Z' : datum.value == '64-QAM' ? 'M-1.6,0L1.6,0M0,-0.5L0,0.5M-0.36,-0.36L0.36,0.36M-0.36,0.36L0.36,-0.36' : 'M-1.6,0L-0.4,0M0.4,0L1.6,0M-0.4,-0.4L0.4,-0.4L0.4,0.4L-0.4,0.4Z'"}, "fill": {"value": "transparent"}, "strokeWidth": {"value": 1}}}}}}}},
{"transform": [{"filter": "datum.x % 40 == 25"}], "layer": [
 {"transform": [{"filter": "datum.s == '4-QAM'"}], "mark": {"type": "point", "shape": "circle", "filled": false, "size": 40, "strokeWidth": 1, "opacity": 1, "color": "#ff0000"}},
 {"transform": [{"filter": "datum.s == '16-QAM'"}], "mark": {"type": "point", "shape": "triangle-up", "filled": false, "size": 40, "strokeWidth": 1, "opacity": 1, "color": "#00ee00"}},
 {"transform": [{"filter": "datum.s == '64-QAM'"}], "mark": {"type": "point", "shape": "M0,-1L0,1M-1,0L1,0M-0.7,-0.7L0.7,0.7M-0.7,0.7L0.7,-0.7", "filled": false, "size": 40, "strokeWidth": 1, "opacity": 1, "color": "#0000ff"}},
 {"transform": [{"filter": "datum.s == '256-QAM'"}], "mark": {"type": "point", "shape": "square", "filled": false, "size": 40, "strokeWidth": 1, "opacity": 1, "color": "#000000"}}
]}
]
},
{
"width": 259, "height": 273,
"data": {"name": "curves"},
"transform": [{"filter": "datum.p == 'c'"}, {"fold": ["4-QAM","16-QAM","64-QAM","256-QAM"], "as": ["s","y"]}],
"title": {"text": "(c) SR with fixed FEC (CR=3/4)", "orient": "bottom", "offset": 21, "dx": -19, "font": "Liberation Serif", "fontSize": 17, "fontWeight": "normal", "color": "#000"},
"encoding": {
"x": {"field": "x", "type": "quantitative", "scale": {"domain": [25,765], "nice": false, "zero": false}, "axis": {"title": "Video Frame Size (kbits)", "values": [100,200,300,400,500,600,700]}},
"y": {"field": "y", "type": "quantitative", "scale": {"domain": [-0.1,1.1], "nice": false, "zero": false}, "axis": {"title": "P(Tf⁽ˡ⁾ ≤ Tb)", "values": [0,0.2,0.4,0.6,0.8,1], "format": "~g"}}
},
"layer": [
{"mark": {"type": "line", "interpolate": "step-after", "strokeWidth": 1.7},
 "encoding": {"detail": {"field": "p"}, "color": {"field": "s", "type": "nominal", "scale": {"domain": ["4-QAM","16-QAM","64-QAM","256-QAM"], "range": ["#ff0000","#00ee00","#0000ff","#000000"]},
  "legend": {"orient": "none", "legendX": 182, "legendY": 18, "title": null, "strokeColor": "#000", "fillColor": "#fff", "padding": 3, "labelFont": "Liberation Sans", "labelFontSize": 10.5, "labelColor": "#000", "symbolSize": 144, "symbolOffset": 4, "labelOffset": 9, "rowPadding": 1,
   "encode": {"symbols": {"update": {"shape": {"signal": "datum.value == '4-QAM' ? 'M-1.6,0L-0.45,0M0.45,0L1.6,0M0.45,0A0.45,0.45,0,1,1,-0.45,0A0.45,0.45,0,1,1,0.45,0' : datum.value == '16-QAM' ? 'M-1.6,0L-0.32,0M0.32,0L1.6,0M0,-0.55L0.5,0.3L-0.5,0.3Z' : datum.value == '64-QAM' ? 'M-1.6,0L1.6,0M0,-0.5L0,0.5M-0.36,-0.36L0.36,0.36M-0.36,0.36L0.36,-0.36' : 'M-1.6,0L-0.4,0M0.4,0L1.6,0M-0.4,-0.4L0.4,-0.4L0.4,0.4L-0.4,0.4Z'"}, "fill": {"value": "transparent"}, "strokeWidth": {"value": 1}}}}}}}},
{"transform": [{"filter": "datum.x % 40 == 25"}], "layer": [
 {"transform": [{"filter": "datum.s == '4-QAM'"}], "mark": {"type": "point", "shape": "circle", "filled": false, "size": 40, "strokeWidth": 1, "opacity": 1, "color": "#ff0000"}},
 {"transform": [{"filter": "datum.s == '16-QAM'"}], "mark": {"type": "point", "shape": "triangle-up", "filled": false, "size": 40, "strokeWidth": 1, "opacity": 1, "color": "#00ee00"}},
 {"transform": [{"filter": "datum.s == '64-QAM'"}], "mark": {"type": "point", "shape": "M0,-1L0,1M-1,0L1,0M-0.7,-0.7L0.7,0.7M-0.7,0.7L0.7,-0.7", "filled": false, "size": 40, "strokeWidth": 1, "opacity": 1, "color": "#0000ff"}},
 {"transform": [{"filter": "datum.s == '256-QAM'"}], "mark": {"type": "point", "shape": "square", "filled": false, "size": 40, "strokeWidth": 1, "opacity": 1, "color": "#000000"}}
]}
]
}
],
"spacing": 10.7,
"resolve": {"scale": {"color": "independent"}}
},
{
"hconcat": [
{
"width": 259, "height": 273,
"data": {"name": "curves"},
"transform": [{"filter": "datum.p == 'd'"}, {"fold": ["4-QAM","16-QAM","64-QAM","256-QAM"], "as": ["s","y"]}],
"title": {"text": "(d) SW with adaptive FEC", "orient": "bottom", "offset": 21, "dx": 0, "font": "Liberation Serif", "fontSize": 17, "fontWeight": "normal", "color": "#000"},
"encoding": {
"x": {"field": "x", "type": "quantitative", "scale": {"domain": [25,765], "nice": false, "zero": false}, "axis": {"title": "Video Frame Size (kbits)", "values": [100,200,300,400,500,600,700]}},
"y": {"field": "y", "type": "quantitative", "scale": {"domain": [-0.1,1.1], "nice": false, "zero": false}, "axis": {"title": "P(Tf⁽ˡ⁾ ≤ Tb)", "values": [0,0.2,0.4,0.6,0.8,1], "format": "~g"}}
},
"layer": [
{"mark": {"type": "line", "interpolate": "step-after", "strokeWidth": 1.7},
 "encoding": {"detail": {"field": "p"}, "color": {"field": "s", "type": "nominal", "scale": {"domain": ["4-QAM","16-QAM","64-QAM","256-QAM"], "range": ["#ff0000","#00ee00","#0000ff","#000000"]},
  "legend": {"orient": "none", "legendX": 182, "legendY": 18, "title": null, "strokeColor": "#000", "fillColor": "#fff", "padding": 3, "labelFont": "Liberation Sans", "labelFontSize": 10.5, "labelColor": "#000", "symbolSize": 144, "symbolOffset": 4, "labelOffset": 9, "rowPadding": 1,
   "encode": {"symbols": {"update": {"shape": {"signal": "datum.value == '4-QAM' ? 'M-1.6,0L-0.45,0M0.45,0L1.6,0M0.45,0A0.45,0.45,0,1,1,-0.45,0A0.45,0.45,0,1,1,0.45,0' : datum.value == '16-QAM' ? 'M-1.6,0L-0.32,0M0.32,0L1.6,0M0,-0.55L0.5,0.3L-0.5,0.3Z' : datum.value == '64-QAM' ? 'M-1.6,0L1.6,0M0,-0.5L0,0.5M-0.36,-0.36L0.36,0.36M-0.36,0.36L0.36,-0.36' : 'M-1.6,0L-0.4,0M0.4,0L1.6,0M-0.4,-0.4L0.4,-0.4L0.4,0.4L-0.4,0.4Z'"}, "fill": {"value": "transparent"}, "strokeWidth": {"value": 1}}}}}}}},
{"transform": [{"filter": "datum.x % 40 == 25"}], "layer": [
 {"transform": [{"filter": "datum.s == '4-QAM'"}], "mark": {"type": "point", "shape": "circle", "filled": false, "size": 40, "strokeWidth": 1, "opacity": 1, "color": "#ff0000"}},
 {"transform": [{"filter": "datum.s == '16-QAM'"}], "mark": {"type": "point", "shape": "triangle-up", "filled": false, "size": 40, "strokeWidth": 1, "opacity": 1, "color": "#00ee00"}},
 {"transform": [{"filter": "datum.s == '64-QAM'"}], "mark": {"type": "point", "shape": "M0,-1L0,1M-1,0L1,0M-0.7,-0.7L0.7,0.7M-0.7,0.7L0.7,-0.7", "filled": false, "size": 40, "strokeWidth": 1, "opacity": 1, "color": "#0000ff"}},
 {"transform": [{"filter": "datum.s == '256-QAM'"}], "mark": {"type": "point", "shape": "square", "filled": false, "size": 40, "strokeWidth": 1, "opacity": 1, "color": "#000000"}}
]}
]
},
{
"width": 259, "height": 273,
"data": {"name": "curves"},
"transform": [{"filter": "datum.p == 'e'"}, {"fold": ["4-QAM","16-QAM","64-QAM","256-QAM"], "as": ["s","y"]}],
"title": {"text": "(e) GBN with adaptive FEC", "orient": "bottom", "offset": 21, "dx": -3, "font": "Liberation Serif", "fontSize": 17, "fontWeight": "normal", "color": "#000"},
"encoding": {
"x": {"field": "x", "type": "quantitative", "scale": {"domain": [25,765], "nice": false, "zero": false}, "axis": {"title": "Video Frame Size (kbits)", "values": [100,200,300,400,500,600,700]}},
"y": {"field": "y", "type": "quantitative", "scale": {"domain": [-0.1,1.1], "nice": false, "zero": false}, "axis": {"title": "P(Tf⁽ˡ⁾ ≤ Tb)", "values": [0,0.2,0.4,0.6,0.8,1], "format": "~g"}}
},
"layer": [
{"mark": {"type": "line", "interpolate": "step-after", "strokeWidth": 1.7},
 "encoding": {"detail": {"field": "p"}, "color": {"field": "s", "type": "nominal", "scale": {"domain": ["4-QAM","16-QAM","64-QAM","256-QAM"], "range": ["#ff0000","#00ee00","#0000ff","#000000"]},
  "legend": {"orient": "none", "legendX": 182, "legendY": 18, "title": null, "strokeColor": "#000", "fillColor": "#fff", "padding": 3, "labelFont": "Liberation Sans", "labelFontSize": 10.5, "labelColor": "#000", "symbolSize": 144, "symbolOffset": 4, "labelOffset": 9, "rowPadding": 1,
   "encode": {"symbols": {"update": {"shape": {"signal": "datum.value == '4-QAM' ? 'M-1.6,0L-0.45,0M0.45,0L1.6,0M0.45,0A0.45,0.45,0,1,1,-0.45,0A0.45,0.45,0,1,1,0.45,0' : datum.value == '16-QAM' ? 'M-1.6,0L-0.32,0M0.32,0L1.6,0M0,-0.55L0.5,0.3L-0.5,0.3Z' : datum.value == '64-QAM' ? 'M-1.6,0L1.6,0M0,-0.5L0,0.5M-0.36,-0.36L0.36,0.36M-0.36,0.36L0.36,-0.36' : 'M-1.6,0L-0.4,0M0.4,0L1.6,0M-0.4,-0.4L0.4,-0.4L0.4,0.4L-0.4,0.4Z'"}, "fill": {"value": "transparent"}, "strokeWidth": {"value": 1}}}}}}}},
{"transform": [{"filter": "datum.x % 40 == 25"}], "layer": [
 {"transform": [{"filter": "datum.s == '4-QAM'"}], "mark": {"type": "point", "shape": "circle", "filled": false, "size": 40, "strokeWidth": 1, "opacity": 1, "color": "#ff0000"}},
 {"transform": [{"filter": "datum.s == '16-QAM'"}], "mark": {"type": "point", "shape": "triangle-up", "filled": false, "size": 40, "strokeWidth": 1, "opacity": 1, "color": "#00ee00"}},
 {"transform": [{"filter": "datum.s == '64-QAM'"}], "mark": {"type": "point", "shape": "M0,-1L0,1M-1,0L1,0M-0.7,-0.7L0.7,0.7M-0.7,0.7L0.7,-0.7", "filled": false, "size": 40, "strokeWidth": 1, "opacity": 1, "color": "#0000ff"}},
 {"transform": [{"filter": "datum.s == '256-QAM'"}], "mark": {"type": "point", "shape": "square", "filled": false, "size": 40, "strokeWidth": 1, "opacity": 1, "color": "#000000"}}
]}
]
},
{
"width": 259, "height": 273,
"title": {"text": "(f) SR with adaptive FEC", "orient": "bottom", "offset": 21, "dx": -7, "font": "Liberation Serif", "fontSize": 17, "fontWeight": "normal", "color": "#000"},
"encoding": {
"x": {"field": "x", "type": "quantitative", "scale": {"domain": [25,765], "nice": false, "zero": false}, "axis": {"title": "Video Frame Size (kbits)", "values": [100,200,300,400,500,600,700]}},
"y": {"field": "y", "type": "quantitative", "scale": {"domain": [-0.1,1.1], "nice": false, "zero": false}, "axis": {"title": "P(Tf⁽ˡ⁾ ≤ Tb)", "values": [0,0.2,0.4,0.6,0.8,1], "format": "~g"}}
},
"layer": [
{
"data": {"name": "curves"},
"transform": [{"filter": "datum.p == 'e' || datum.p == 'f'"}, {"fold": ["4-QAM","16-QAM","64-QAM","256-QAM"], "as": ["s","y"]}],
"layer": [
{"mark": {"type": "line", "interpolate": "step-after", "strokeWidth": 1.7},
 "encoding": {"detail": {"field": "p"}, "color": {"field": "s", "type": "nominal", "scale": {"domain": ["4-QAM","16-QAM","64-QAM","256-QAM"], "range": ["#ff0000","#00ee00","#0000ff","#000000"]},
  "legend": {"orient": "none", "legendX": 182, "legendY": 18, "title": null, "strokeColor": "#000", "fillColor": "#fff", "padding": 3, "labelFont": "Liberation Sans", "labelFontSize": 10.5, "labelColor": "#000", "symbolSize": 144, "symbolOffset": 4, "labelOffset": 9, "rowPadding": 1,
   "encode": {"symbols": {"update": {"shape": {"signal": "datum.value == '4-QAM' ? 'M-1.6,0L-0.45,0M0.45,0L1.6,0M0.45,0A0.45,0.45,0,1,1,-0.45,0A0.45,0.45,0,1,1,0.45,0' : datum.value == '16-QAM' ? 'M-1.6,0L-0.32,0M0.32,0L1.6,0M0,-0.55L0.5,0.3L-0.5,0.3Z' : datum.value == '64-QAM' ? 'M-1.6,0L1.6,0M0,-0.5L0,0.5M-0.36,-0.36L0.36,0.36M-0.36,0.36L0.36,-0.36' : 'M-1.6,0L-0.4,0M0.4,0L1.6,0M-0.4,-0.4L0.4,-0.4L0.4,0.4L-0.4,0.4Z'"}, "fill": {"value": "transparent"}, "strokeWidth": {"value": 1}}}}}}}},
{"transform": [{"filter": "datum.x % 40 == 25"}], "layer": [
 {"transform": [{"filter": "datum.s == '4-QAM'"}], "mark": {"type": "point", "shape": "circle", "filled": false, "size": 40, "strokeWidth": 1, "opacity": 1, "color": "#ff0000"}},
 {"transform": [{"filter": "datum.s == '16-QAM'"}], "mark": {"type": "point", "shape": "triangle-up", "filled": false, "size": 40, "strokeWidth": 1, "opacity": 1, "color": "#00ee00"}},
 {"transform": [{"filter": "datum.s == '64-QAM'"}], "mark": {"type": "point", "shape": "M0,-1L0,1M-1,0L1,0M-0.7,-0.7L0.7,0.7M-0.7,0.7L0.7,-0.7", "filled": false, "size": 40, "strokeWidth": 1, "opacity": 1, "color": "#0000ff"}},
 {"transform": [{"filter": "datum.s == '256-QAM'"}], "mark": {"type": "point", "shape": "square", "filled": false, "size": 40, "strokeWidth": 1, "opacity": 1, "color": "#000000"}}
]}
]
},
{"data": {"values": [{"x": 286, "y": 0.747}]},
 "mark": {"type": "point", "shape": "M-1,0A1,0.133,0,1,0,1,0A1,0.133,0,1,0,-1,0", "size": 16384, "filled": false, "color": "#000", "strokeWidth": 1.5, "opacity": 1}},
{"data": {"values": [{"x": 92, "y": 0.23}]},
 "mark": {"type": "point", "shape": "M-1,0A1,0.32,0,1,0,1,0A1,0.32,0,1,0,-1,0", "size": 1521, "filled": false, "color": "#000", "strokeWidth": 1.5, "opacity": 1}},
{"data": {"values": [{"x": 468, "y": 0.747, "x2": 559, "y2": 0.554}, {"x": 142, "y": 0.243, "x2": 222, "y2": 0.296}]},
 "mark": {"type": "rule", "color": "#000", "strokeWidth": 1.5},
 "encoding": {"x2": {"field": "x2"}, "y2": {"field": "y2"}}},
{"data": {"values": [{"x": 559, "y": 0.554}]},
 "mark": {"type": "point", "shape": "triangle-up", "angle": 145, "size": 50, "filled": true, "color": "#000", "opacity": 1}},
{"data": {"values": [{"x": 222, "y": 0.296}]},
 "mark": {"type": "point", "shape": "triangle-up", "angle": 67, "size": 50, "filled": true, "color": "#000", "opacity": 1}},
{"data": {"values": [{"x": 573, "y": 0.54, "main": "T", "sub": "b", "rest": "=167ms"}, {"x": 232, "y": 0.31, "main": "T", "sub": "b", "rest": "=33ms"}]},
 "layer": [
  {"mark": {"type": "text", "align": "left", "baseline": "middle", "font": "Liberation Sans", "fontSize": 11, "color": "#000"}, "encoding": {"text": {"field": "main"}}},
  {"mark": {"type": "text", "align": "left", "baseline": "middle", "font": "Liberation Sans", "fontSize": 8, "color": "#000", "dx": 6.5, "dy": 3}, "encoding": {"text": {"field": "sub"}}},
  {"mark": {"type": "text", "align": "left", "baseline": "middle", "font": "Liberation Sans", "fontSize": 11, "color": "#000", "dx": 11.5}, "encoding": {"text": {"field": "rest"}}}
 ]}
]
}
],
"spacing": 10.7,
"resolve": {"scale": {"color": "independent"}}
}
],
"spacing": 30,
"resolve": {"scale": {"color": "independent"}}
},
{
"vconcat": [
{
"hconcat": [
{"width": 1, "height": 1, "view": {"stroke": null}, "data": {"values": []}, "mark": "point",
 "title": {"text": "Figure 7 The probability of correctly receiving a frame within a time constraint vs. the frame size", "orient": "bottom", "anchor": "start", "dx": -217, "offset": 2, "limit": 3000, "font": "Liberation Sans Narrow, DejaVu Sans Condensed, Roboto, sans-serif", "fontSize": 20, "fontWeight": "bold", "color": "#000"}},
{"width": 1, "height": 1, "view": {"stroke": null}, "data": {"values": []}, "mark": "point",
 "title": {"text": ". (a) SW with fixed FEC (CR = 3/4), (b)", "orient": "bottom", "anchor": "start", "offset": 2, "dy": 3, "limit": 3000, "font": "Liberation Sans Narrow, DejaVu Sans Condensed, Roboto, sans-serif", "fontSize": 16, "fontWeight": "normal", "color": "#222"}}
],
"spacing": 0
},
{"width": 1, "height": 1, "view": {"stroke": null}, "data": {"values": []}, "mark": "point",
 "title": {"text": "GBN with fixed FEC (CR = 3/4), (c) SR with fixed FEC (CR = 3/4), (d) SW with adaptive FEC, (e) GBN with adaptive FEC, (f) SR with adaptive FEC.", "orient": "bottom", "anchor": "start", "dx": -217, "offset": 2, "limit": 3000, "font": "Liberation Sans Narrow, DejaVu Sans Condensed, Roboto, sans-serif", "fontSize": 19.4, "fontWeight": "normal", "color": "#222"}}
],
"spacing": 6
}
],
"spacing": 13,
"resolve": {"scale": {"color": "independent"}},
"config": {
"view": {"stroke": "#000", "strokeWidth": 1},
"font": "Liberation Sans",
"axis": {"domain": false, "grid": true, "gridColor": "#555", "gridDash": [1,3], "gridWidth": 1, "gridOpacity": 1, "tickColor": "#000", "tickSize": -4, "labelPadding": 6, "labelFont": "Liberation Sans", "labelFontSize": 11, "labelColor": "#333", "titleFont": "Liberation Sans", "titleFontSize": 11.5, "titleFontWeight": "normal", "titleColor": "#333"},
"axisX": {"titlePadding": -1},
"axisY": {"titlePadding": 4}
}
}
